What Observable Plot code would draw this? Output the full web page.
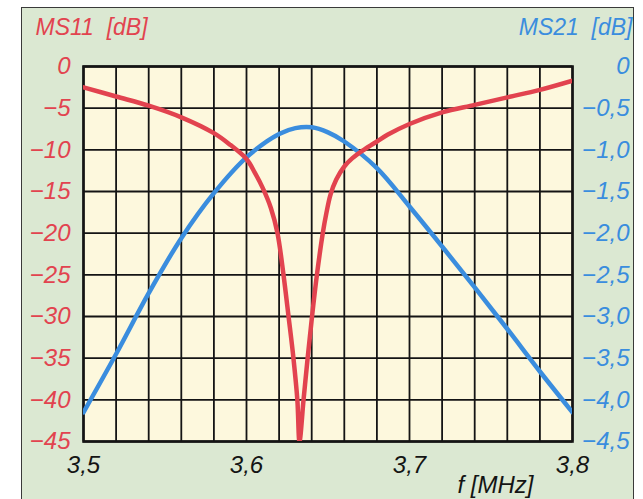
<!DOCTYPE html>
<html>
<head>
<meta charset="utf-8">
<script src="https://cdn.jsdelivr.net/npm/d3@7"></script>
<script src="https://cdn.jsdelivr.net/npm/@observablehq/plot@0.6"></script>
<style>
  html, body { margin: 0; padding: 0; background: #ffffff; }
  #wrap { position: relative; width: 643px; height: 499px; overflow: hidden; }
  #panel { position: absolute; left: 21px; top: 7px; width: 613px; height: 510px;
           background: #dbe8d2; border: 1.5px solid #3a3a3a; box-sizing: border-box; }
  #chart { position: absolute; left: 0; top: 0; }
  #chart svg { background: transparent; }
</style>
</head>
<body>
<div id="wrap"><div id="panel"></div><div id="chart"></div></div>
<script>
// Frequency axis (MHz)
const xTicks = [3.5, 3.6, 3.7, 3.8];
const xTickLabels = ["3,5", "3,6", "3,7", "3,8"];
// Left axis: MS11 [dB]
const leftTicks = [0, -5, -10, -15, -20, -25, -30, -35, -40, -45];
const leftTickLabels = ["0", "−5", "−10", "−15", "−20", "−25", "−30", "−35", "−40", "−45"];
// Right axis: MS21 [dB]
const rightTicks = [0, -0.5, -1.0, -1.5, -2.0, -2.5, -3.0, -3.5, -4.0, -4.5];
const rightTickLabels = ["0", "−0,5", "−1,0", "−1,5", "−2,0", "−2,5", "−3,0", "−3,5", "−4,0", "−4,5"];
const titleLeft = "MS11\u00a0 [dB]";
const titleRight = "MS21\u00a0 [dB]";
const titleX = "f [MHz]";

// MS11 curve
const ms11F = [3.50, 3.52, 3.54, 3.56, 3.58, 3.59, 3.60, 3.605, 3.61, 3.615, 3.619, 3.6227, 3.6258, 3.6288, 3.6312, 3.6325,
               3.635, 3.6375, 3.6402, 3.6432, 3.6468, 3.649, 3.6515, 3.655, 3.66, 3.665, 3.672, 3.68, 3.6865, 3.70, 3.72, 3.74, 3.76, 3.78, 3.80];
const ms11V = [-2.5, -3.6, -4.7, -6.1, -8.0, -9.4, -11.1, -12.7, -14.6, -17.0, -20, -25, -30, -35, -40, -45,
               -40, -35, -30, -25, -20, -17.6, -15.4, -13.6, -12.0, -11.0, -10.0, -9.0, -8.2, -6.9, -5.5, -4.6, -3.7, -2.8, -1.7];
// MS21 curve
const ms21F = [3.50, 3.52, 3.54, 3.56, 3.58, 3.60, 3.62, 3.63, 3.64, 3.65, 3.66, 3.68, 3.70, 3.72, 3.74, 3.76, 3.78, 3.80];
const ms21V = [-4.15, -3.45, -2.72, -2.06, -1.52, -1.09, -0.81, -0.74, -0.73, -0.79, -0.90, -1.22, -1.68, -2.16, -2.65, -3.15, -3.66, -4.15];

const red = "#e2434f";
const blue = "#3a8dde";
const ink = "#141414";
const font = "'Liberation Sans', Arial, sans-serif";

const ms11 = ms11F.map((f, i) => ({f, v: ms11V[i]}));
const ms21 = ms21F.map((f, i) => ({f, v: ms21V[i]}));
const ratio = 10; // right axis units -> left axis units
const xGrid = d3.range(0, 16).map(i => 3.5 + i * 0.02);

const chart = Plot.plot({
  width: 643,
  height: 499,
  marginLeft: 83,
  marginRight: 71,
  marginTop: 66,
  marginBottom: 58,
  style: {fontFamily: font, fontSize: "24px", fontStyle: "italic", background: "transparent"},
  x: {domain: [3.5, 3.8]},
  y: {domain: [-45, 0]},
  marks: [
    Plot.frame({fill: "#fdf8dd", stroke: null}),
    Plot.gridX(xGrid, {stroke: ink, strokeOpacity: 1, strokeWidth: 1.8}),
    Plot.gridY(leftTicks, {stroke: ink, strokeOpacity: 1, strokeWidth: 1.8}),
    Plot.frame({stroke: ink, strokeWidth: 2.6}),
    Plot.line(ms21, {x: "f", y: d => d.v * ratio, stroke: blue, strokeWidth: 4.5, curve: "catmull-rom", clip: true}),
    Plot.line(ms11, {x: "f", y: "v", stroke: red, strokeWidth: 4.5, curve: "catmull-rom", clip: true}),
    Plot.axisX({ticks: xTicks, tickFormat: (d, i) => xTickLabels[i], tickSize: 0, tickPadding: 14,
                fill: ink, fontSize: 24, fontStyle: "italic", label: null}),
    Plot.axisY({anchor: "left", ticks: leftTicks, tickFormat: (d, i) => leftTickLabels[i], tickSize: 0, tickPadding: 13,
                fill: red, fontSize: 24, fontStyle: "italic", label: null}),
    Plot.axisY({anchor: "right", ticks: rightTicks.map(d => d * ratio), tickFormat: (d, i) => rightTickLabels[i],
                tickSize: 0, tickPadding: 57, textAnchor: "end",
                fill: blue, fontSize: 24, fontStyle: "italic", label: null}),
    Plot.text([titleLeft], {frameAnchor: "top-left", text: d => d, dx: -48, dy: -32, textAnchor: "start", lineAnchor: "bottom",
                fill: red, fontSize: 23, fontStyle: "italic"}),
    Plot.text([titleRight], {frameAnchor: "top-right", text: d => d, dx: 60, dy: -32, textAnchor: "end", lineAnchor: "bottom",
                fill: blue, fontSize: 23, fontStyle: "italic"}),
    Plot.text([titleX], {frameAnchor: "bottom-right", text: d => d, dx: -39, dy: 51, textAnchor: "end", lineAnchor: "bottom",
                fill: ink, fontSize: 24, fontStyle: "italic"})
  ]
});
document.getElementById("chart").appendChild(chart);
</script>
</body>
</html>
